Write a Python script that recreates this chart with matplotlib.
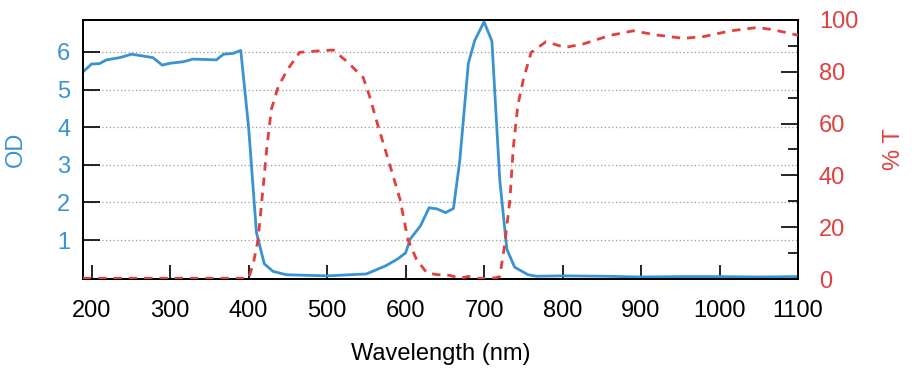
import numpy as np
import matplotlib.pyplot as plt
from matplotlib.ticker import MultipleLocator

# OD curve (blue, left axis)
od_nm = [189, 200, 210, 219, 236, 251, 278, 290, 300, 317, 329, 359, 368, 380, 390,
         400, 410, 420, 431, 448, 500, 550, 575, 590, 600, 606, 619, 630, 640, 651, 661,
         669, 680, 688, 700, 710, 720, 729, 739, 756, 767, 800, 850, 900, 950, 1000, 1050, 1100]
od_val = [5.47, 5.68, 5.69, 5.79, 5.85, 5.94, 5.85, 5.65, 5.70, 5.74, 5.81, 5.79, 5.94, 5.96, 6.04,
          4.0, 1.2, 0.37, 0.17, 0.08, 0.05, 0.10, 0.32, 0.50, 0.66, 1.03, 1.38, 1.86, 1.83, 1.73, 1.84,
          3.1, 5.7, 6.3, 6.8, 6.29, 2.6, 0.76, 0.28, 0.08, 0.04, 0.05, 0.04, 0.02, 0.03, 0.03, 0.02, 0.03]

# Transmission curve (red dashed, right axis)
t_nm = [189, 250, 300, 350, 390, 400, 406, 412, 419, 423, 429, 438, 450, 465, 486, 508, 525,
        546, 554, 565, 578, 593, 603, 614, 627, 640, 656, 670, 680, 690, 700, 715, 720, 726,
        733, 737, 743, 750, 760, 779, 803, 826, 860, 890, 920, 954, 980, 1014, 1048, 1069, 1094, 1100]
t_val = [0.3, 0.3, 0.3, 0.3, 0.3, 0.2, 6, 15, 37, 50, 65.5, 74.5, 81, 87.5, 88, 88.4, 84,
         77.8, 70.7, 59, 46, 30.7, 15.2, 7.5, 2.4, 1.7, 1.4, 0.3, 1.0, 0.3, 0.2, 0.5, 1.0, 12.6,
         30.7, 50, 67, 77, 87.5, 91.6, 89.4, 90.7, 94, 95.8, 94.2, 92.9, 93.6, 95.8, 97.1, 96.2, 94.5, 94]

blue = '#3a93d0'
red = '#e0403f'

plt.rcParams['font.family'] = ['Liberation Sans', 'DejaVu Sans']
fig = plt.figure(figsize=(9.14, 3.84), dpi=100)
ax = fig.add_axes([0.0908, 0.2734, 0.7823, 0.6746])
ax2 = ax.twinx()

ax.plot(od_nm, od_val, color=blue, lw=2, zorder=3)
ax2.plot(t_nm, t_val, color=red, lw=2, ls=(0, (3, 2.5)), zorder=3)

ax.set_xlim(189, 1100)
ax.set_ylim(-0.034, 6.85)
ax2.set_ylim(0, 100)

ax.set_xticks(range(200, 1101, 100))
ax.set_yticks([1, 2, 3, 4, 5, 6])
ax2.set_yticks(range(0, 101, 20))
ax2.yaxis.set_minor_locator(MultipleLocator(10))

ax.grid(axis='y', color='#999999', ls=(0, (1, 2)), lw=0.9)
ax.tick_params(axis='x', direction='in', length=10, width=1.2, labelsize=17, pad=15, colors='black')
ax.tick_params(axis='y', direction='in', length=12, width=1.2, labelsize=17, labelcolor=blue, pad=9)
ax2.tick_params(axis='y', which='major', direction='in', length=12, width=1.2, labelsize=17,
                labelcolor=red, pad=15)
ax2.tick_params(axis='y', which='minor', direction='in', length=7, width=1.2)

for sp in ax.spines.values():
    sp.set_linewidth(1.3)
for sp in ax2.spines.values():
    sp.set_linewidth(1.3)

ax.set_xlabel('Wavelength (nm)', fontsize=17, labelpad=15)
ax.set_ylabel('OD', fontsize=17, color=blue, labelpad=22)
ax2.set_ylabel('% T', fontsize=17, color=red, labelpad=18)

fig.savefig('out.png', dpi=100)
